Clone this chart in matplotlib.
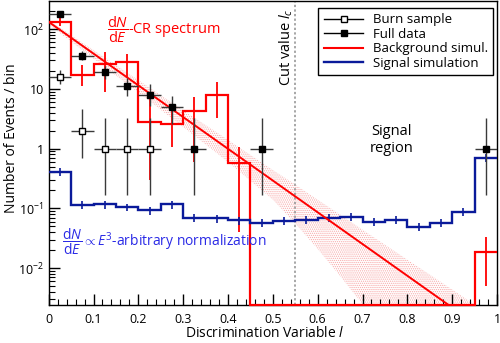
import numpy as np
import matplotlib
matplotlib.use("Agg")
import matplotlib.pyplot as plt
from matplotlib.lines import Line2D
from matplotlib.ticker import FixedLocator, MultipleLocator, LogLocator, NullFormatter

plt.rcParams.update({"font.family": "Open Sans", "font.size": 9,
                     "mathtext.fontset": "custom", "mathtext.rm": "Open Sans",
                     "mathtext.it": "Open Sans:italic", "mathtext.bf": "Open Sans:bold",
                     "hatch.linewidth": 0.6})

# ---- data ----
edges = np.round(np.arange(0, 1.0001, 0.05), 2)
centers = edges[:-1] + 0.025

# background simulation (red histogram), with errors
bg = [131, 17, 26, 28.5, 2.8, 2.6, 4.3, 7.9, 0.58,
      0, 0, 0, 0, 0, 0, 0, 0, 0, 0, 0.019]
bg_err_lo = [18, 6, 17, 13.5, 2.5, 1.55, 3.7, 4.7, 0.54,
             0, 0, 0, 0, 0, 0, 0, 0, 0, 0, 0.014]
bg_err_hi = [20, 8, 16, 10.5, 4.3, 2.1, 3.1, 5.0, 0.47,
             0, 0, 0, 0, 0, 0, 0, 0, 0, 0, 0.014]

# signal simulation (blue histogram)
sig = [0.41, 0.116, 0.117, 0.105, 0.093, 0.117, 0.070, 0.068, 0.063, 0.058,
       0.062, 0.065, 0.069, 0.072, 0.059, 0.065, 0.049, 0.058, 0.087, 0.70]

# full data (filled squares)
full_x = [0.025, 0.075, 0.125, 0.175, 0.225, 0.275, 0.325, 0.475, 0.975]
full_y = [180, 36, 19, 11, 8, 5, 1, 1, 1]
full_lo = [13, 6, 4.3, 3.3, 2.8, 2.4, 0.83, 0.83, 0.83]
full_hi = [14, 7, 5.4, 4.4, 3.9, 2.6, 2.3, 2.3, 2.3]

# burn sample (open squares)
burn_x = [0.025, 0.075, 0.125, 0.175, 0.225]
burn_y = [16, 2, 1, 1, 1]
burn_lo = [4, 1.3, 0.83, 0.83, 0.83]
burn_hi = [4.5, 2.6, 2.3, 2.3, 2.3]

# dN/dE CR spectrum fit line and its band
fit_x = [0.0, 0.9]
fit_y = [132, 0.0022]
band_x = [0, 0.1, 0.2, 0.3, 0.4, 0.5, 0.55, 0.6, 0.65, 0.7, 0.8, 0.9, 0.95]
band_hi = [141, 44.6, 14, 4.4, 1.4, 0.44, 0.25, 0.14, 0.079, 0.044, 0.0139, 0.0044, 0.00245]
band_lo = [120, 32, 8.7, 2.3, 0.6, 0.14, 0.056, 0.021, 0.0074, 0.0025, 0.001, 0.001, 0.001]

cut = 0.55
YMIN, YMAX = 0.00243, 295

fig = plt.figure(figsize=(5.0, 3.43), dpi=100)
ax = fig.add_axes([0.0974, 0.111, 0.8966, 0.886])
ax.set_yscale("log")
ax.set_xlim(0, 1)
ax.set_ylim(YMIN, YMAX)

RED = "#ff0000"
BLUE = "#0a1a9a"
ERR = "#3a3a3a"

# band + fit line
ax.fill_between(band_x, band_lo, band_hi, facecolor="none", edgecolor="#f8a8a8",
                hatch="........", linewidth=0, zorder=1)
ax.plot(fit_x, fit_y, color=RED, lw=1.4, zorder=4)

# red histogram (empty bins drawn on the floor, as ROOT does)
bg_draw = np.where(np.array(bg) > 0, bg, YMIN)
ax.stairs(bg_draw, edges, color=RED, lw=1.6, baseline=None, zorder=3, clip_on=False)
mask = np.array(bg) > 0
ax.errorbar(centers[mask], np.array(bg)[mask],
            yerr=[np.array(bg_err_lo)[mask], np.array(bg_err_hi)[mask]],
            fmt="none", ecolor=RED, elinewidth=1.3, capsize=0, zorder=3)

# blue histogram
sig = np.array(sig)
ax.stairs(sig, edges, color=BLUE, lw=1.7, baseline=None, zorder=3)
ax.errorbar(centers, sig, yerr=0.15 * sig, fmt="none", ecolor=BLUE,
            elinewidth=1.2, capsize=0, zorder=3)

# data points
ax.errorbar(full_x, full_y, xerr=0.025, yerr=[full_lo, full_hi], fmt="s", ms=5,
            mfc="black", mec="black", ecolor=ERR, elinewidth=1.0, capsize=0, zorder=5)
ax.errorbar(burn_x, burn_y, xerr=0.025, yerr=[burn_lo, burn_hi], fmt="s", ms=5,
            mfc="white", mec="black", mew=1.0, ecolor=ERR, elinewidth=1.0, capsize=0, zorder=5)

# cut line
ax.axvline(cut, color="#909090", lw=1.1, ls=(0, (1.5, 1.5)), zorder=2)
ax.text(0.531, 0.975, r"Cut value $l_c$", rotation=90, ha="center", va="top",
        transform=ax.transAxes, fontsize=10.5)
ax.text(0.765, 0.543, "Signal\nregion", ha="center", va="center",
        transform=ax.transAxes, fontsize=10.5, linespacing=1.2)

ax.text(0.13, 0.905, r"$\dfrac{\mathrm{d}N}{\mathrm{d}E}$-CR spectrum", color=RED,
        ha="left", va="center", transform=ax.transAxes, fontsize=10.5)
ax.text(0.03, 0.207, r"$\dfrac{\mathrm{d}N}{\mathrm{d}E}\propto E^3$-arbitrary normalization",
        color="#2a2ae6", ha="left", va="center", transform=ax.transAxes, fontsize=10)

# axes styling (ROOT-like)
ax.set_xticks(np.round(np.arange(0, 1.01, 0.1), 1))
ax.set_xticklabels(["0"] + [f"{v:.1f}" for v in np.arange(0.1, 0.95, 0.1)] + ["1"])
ax.xaxis.set_minor_locator(MultipleLocator(0.02))
ax.yaxis.set_major_locator(FixedLocator([1e-2, 1e-1, 1, 10, 100]))
ax.set_yticklabels([r"$10^{-2}$", r"$10^{-1}$", "1", "10", r"$10^{2}$"])
ax.yaxis.set_minor_locator(LogLocator(base=10, subs=np.arange(2, 10)))
ax.yaxis.set_minor_formatter(NullFormatter())
ax.tick_params(which="both", direction="in", top=False, right=False, labelsize=9)
ax.tick_params(which="major", length=8, width=1)
ax.tick_params(which="minor", length=4, width=0.8)
ax.tick_params(axis="x", pad=6)
for s in ax.spines.values():
    s.set_linewidth(1.0)

ax.set_xlabel(r"Discrimination Variable $l$", fontsize=10)
ax.xaxis.set_label_coords(0.483, -0.068)
ax.set_ylabel("Number of Events / bin", fontsize=10)
ax.yaxis.set_label_coords(-0.066, 0.55)

handles = [
    Line2D([], [], color="black", lw=1, marker="s", ms=5, mfc="white", mec="black"),
    Line2D([], [], color="black", lw=1, marker="s", ms=5, mfc="black"),
    Line2D([], [], color=RED, lw=1.5),
    Line2D([], [], color=BLUE, lw=1.7),
]
labels = ["Burn sample", "Full data", "Background simul.", "Signal simulation"]
leg = ax.legend(handles, labels, loc="upper right", bbox_to_anchor=(0.991, 0.977),
                borderaxespad=0, fancybox=False, edgecolor="black", framealpha=1,
                fontsize=9.5, handlelength=3.0, labelspacing=0.12, borderpad=0.4,
                handletextpad=0.7)
leg.get_frame().set_linewidth(1.0)
leg.set_zorder(10)

fig.savefig("out.png", dpi=100)
